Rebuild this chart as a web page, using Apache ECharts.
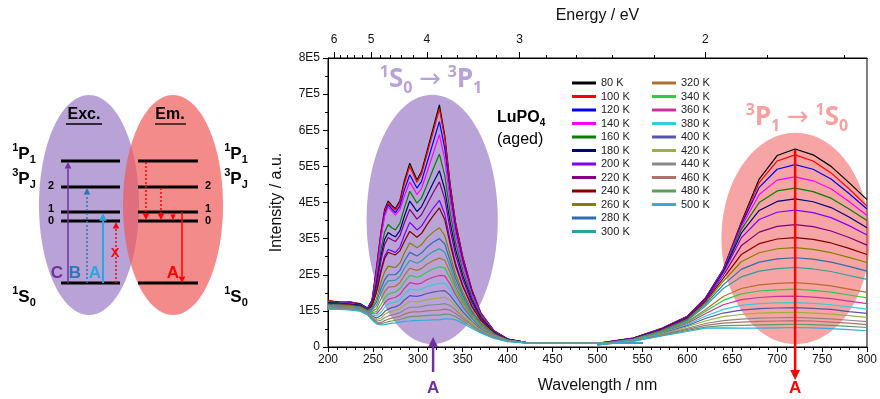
<!DOCTYPE html>
<html><head><meta charset="utf-8">
<script src="https://cdn.jsdelivr.net/npm/echarts@6/dist/echarts.min.js"></script>
<style>html,body{margin:0;padding:0;background:#fff}#c{width:880px;height:399px}</style>
</head><body><div id="c"></div>
<script>
// ---------- data (intensities in units of 1E5) ----------
const temps = ['80 K','100 K','120 K','140 K','160 K','180 K','200 K','220 K','240 K','260 K','280 K','300 K',
               '320 K','340 K','360 K','380 K','400 K','420 K','440 K','460 K','480 K','500 K'];
const colors = ['#000000','#FF0000','#0000FF','#FF00FF','#008000','#000080','#8000FF','#800080','#800000','#808000','#2E6DB4','#2AA0A0',
                '#B0702A','#2ECC44','#CC3399','#33CCDD','#5555AA','#9EB23A','#888888','#B07070','#5E9E5E','#33AADD'];
const exWl = [200,212,224,236,244,249,254,259,263,267,271,275,280,285,291,295,299,304,310,317,324,330,336,342,350,360,370,385,400,420,450,500,550];
const emWl = [500,540,570,600,620,640,660,680,700,720,740,760,780,800];

const ex80  = [1.28,1.25,1.24,1.20,1.08,1.30,2.20,3.20,3.80,4.04,3.92,3.83,4.05,4.60,5.09,4.85,4.63,4.85,5.40,6.05,6.70,5.85,4.50,3.45,2.50,1.60,0.95,0.45,0.22,0.13,0.10,0.10,0.12];
const ex100 = [1.30,1.22,1.26,1.18,1.06,1.28,2.15,3.15,3.75,4.00,3.88,3.79,4.00,4.52,5.00,4.78,4.56,4.78,5.32,5.95,6.59,5.78,4.45,3.42,2.48,1.58,0.94,0.44,0.22,0.13,0.10,0.10,0.12];
const ex120 = [1.26,1.24,1.22,1.19,1.07,1.27,2.10,3.08,3.68,3.94,3.82,3.72,3.90,4.35,4.77,4.58,4.40,4.58,5.08,5.66,6.24,5.50,4.25,3.28,2.38,1.53,0.92,0.44,0.22,0.13,0.10,0.10,0.12];
const ex140 = [1.25,1.23,1.21,1.17,1.06,1.25,2.05,3.02,3.62,3.88,3.76,3.65,3.80,4.18,4.57,4.40,4.22,4.38,4.82,5.35,5.88,5.20,4.05,3.12,2.28,1.47,0.90,0.43,0.21,0.13,0.10,0.10,0.12];
const ex160 = [1.24,1.22,1.20,1.16,1.05,1.22,1.85,2.70,3.18,3.39,3.30,3.24,3.42,3.85,4.31,4.15,3.98,4.12,4.48,4.92,5.34,4.75,3.72,2.90,2.12,1.38,0.86,0.42,0.21,0.13,0.10,0.10,0.12];
const ex180 = [1.22,1.21,1.18,1.15,1.04,1.20,1.75,2.52,2.98,3.17,3.10,3.05,3.22,3.62,4.04,3.90,3.75,3.88,4.18,4.54,4.88,4.36,3.45,2.70,1.98,1.30,0.82,0.41,0.21,0.13,0.10,0.10,0.12];
const ex200 = [1.20,1.19,1.17,1.13,1.03,1.15,1.55,2.15,2.52,2.70,2.66,2.62,2.76,3.10,3.45,3.35,3.24,3.34,3.58,3.84,4.06,3.68,2.95,2.32,1.72,1.15,0.75,0.39,0.20,0.12,0.10,0.10,0.12];
const ex220 = [1.21,1.20,1.17,1.14,1.03,1.17,1.68,2.40,2.84,3.03,2.97,2.92,3.08,3.44,3.81,3.68,3.54,3.66,3.94,4.27,4.57,4.10,3.25,2.55,1.88,1.24,0.79,0.40,0.20,0.12,0.10,0.10,0.12];
const ex240 = [1.19,1.18,1.16,1.12,1.02,1.13,1.50,2.08,2.45,2.62,2.58,2.55,2.66,2.92,3.20,3.12,3.04,3.14,3.38,3.63,3.85,3.52,2.85,2.25,1.68,1.12,0.73,0.38,0.20,0.12,0.10,0.10,0.12];
const ex260 = [1.18,1.17,1.15,1.11,1.01,1.08,1.35,1.80,2.08,2.24,2.22,2.20,2.32,2.60,2.88,2.82,2.75,2.83,3.02,3.18,3.30,3.08,2.55,2.02,1.52,1.02,0.68,0.36,0.19,0.12,0.10,0.10,0.12];
const ex280 = [1.16,1.16,1.14,1.10,1.00,1.05,1.25,1.62,1.86,2.00,2.00,2.00,2.12,2.38,2.62,2.57,2.52,2.60,2.76,2.90,3.00,2.85,2.38,1.90,1.43,0.97,0.64,0.35,0.19,0.12,0.10,0.10,0.12];
const ex300 = [1.15,1.14,1.13,1.09,0.99,1.02,1.15,1.48,1.70,1.83,1.84,1.85,1.95,2.18,2.40,2.36,2.32,2.38,2.52,2.64,2.72,2.62,2.22,1.78,1.35,0.92,0.61,0.34,0.19,0.12,0.10,0.10,0.12];
const ex320 = [1.14,1.13,1.12,1.08,0.98,0.98,1.06,1.33,1.53,1.65,1.67,1.68,1.78,1.98,2.18,2.15,2.12,2.17,2.29,2.39,2.46,2.40,2.06,1.67,1.27,0.87,0.58,0.33,0.18,0.12,0.10,0.10,0.12];
const ex340 = [1.13,1.12,1.11,1.07,0.97,0.95,0.98,1.18,1.36,1.46,1.50,1.52,1.61,1.80,1.98,1.96,1.93,1.97,2.07,2.16,2.22,2.19,1.90,1.56,1.20,0.83,0.56,0.32,0.18,0.12,0.10,0.10,0.12];
const ex360 = [1.12,1.11,1.10,1.06,0.96,0.92,0.92,1.06,1.22,1.32,1.35,1.37,1.45,1.62,1.78,1.76,1.74,1.77,1.86,1.93,1.98,1.97,1.74,1.45,1.12,0.79,0.53,0.31,0.18,0.12,0.10,0.10,0.12];
const ex380 = [1.11,1.10,1.09,1.05,0.95,0.89,0.86,0.96,1.10,1.19,1.22,1.24,1.31,1.46,1.60,1.59,1.57,1.60,1.67,1.72,1.76,1.76,1.58,1.34,1.05,0.75,0.51,0.30,0.18,0.12,0.10,0.10,0.12];
const ex400 = [1.10,1.09,1.08,1.04,0.94,0.86,0.80,0.87,0.98,1.05,1.09,1.11,1.17,1.30,1.42,1.41,1.40,1.43,1.48,1.52,1.55,1.56,1.43,1.23,0.98,0.71,0.49,0.29,0.17,0.11,0.10,0.10,0.12];
const ex420 = [1.09,1.08,1.07,1.03,0.93,0.83,0.76,0.80,0.90,0.96,0.99,1.01,1.06,1.16,1.26,1.26,1.25,1.27,1.31,1.34,1.36,1.38,1.29,1.13,0.91,0.67,0.47,0.28,0.17,0.11,0.10,0.10,0.12];
const ex440 = [1.08,1.07,1.06,1.02,0.92,0.81,0.72,0.74,0.81,0.86,0.89,0.91,0.95,1.03,1.10,1.10,1.10,1.12,1.15,1.17,1.18,1.20,1.15,1.03,0.84,0.63,0.45,0.27,0.17,0.11,0.10,0.10,0.12];
const ex460 = [1.07,1.06,1.05,1.01,0.91,0.79,0.69,0.68,0.73,0.77,0.80,0.82,0.85,0.91,0.96,0.97,0.97,0.98,1.00,1.01,1.02,1.05,1.02,0.93,0.78,0.60,0.43,0.26,0.16,0.11,0.10,0.10,0.12];
const ex480 = [1.06,1.05,1.04,1.00,0.90,0.77,0.66,0.64,0.67,0.70,0.72,0.74,0.76,0.80,0.84,0.85,0.85,0.86,0.87,0.88,0.88,0.91,0.90,0.84,0.72,0.56,0.41,0.25,0.16,0.11,0.10,0.10,0.12];
const ex500 = [1.05,1.04,1.03,0.99,0.89,0.75,0.64,0.61,0.62,0.64,0.66,0.67,0.69,0.71,0.72,0.73,0.73,0.74,0.74,0.75,0.75,0.78,0.78,0.75,0.66,0.52,0.39,0.24,0.15,0.11,0.10,0.10,0.12];

const em80  = [0.10,0.25,0.50,0.85,1.35,2.15,3.45,4.65,5.30,5.48,5.32,5.00,4.55,4.08];
const em100 = [0.10,0.25,0.50,0.85,1.35,2.15,3.42,4.55,5.15,5.32,5.15,4.82,4.38,3.90];
const em120 = [0.10,0.25,0.49,0.84,1.34,2.13,3.38,4.42,4.92,5.05,4.92,4.65,4.25,3.82];
const em140 = [0.10,0.24,0.49,0.84,1.33,2.12,3.32,4.22,4.62,4.71,4.60,4.38,4.03,3.64];
const em160 = [0.09,0.24,0.48,0.83,1.32,2.10,3.25,4.00,4.32,4.40,4.30,4.12,3.82,3.50];
const em180 = [0.09,0.24,0.48,0.82,1.31,2.08,3.15,3.78,4.03,4.10,4.02,3.86,3.60,3.30];
const em200 = [0.09,0.23,0.47,0.81,1.30,2.05,3.02,3.53,3.73,3.79,3.72,3.58,3.36,3.10];
const em220 = [0.09,0.23,0.46,0.80,1.28,1.98,2.80,3.18,3.34,3.39,3.33,3.21,3.03,2.82];
const em240 = [0.09,0.22,0.45,0.79,1.25,1.90,2.56,2.86,2.99,3.03,2.98,2.88,2.73,2.56];
const em260 = [0.08,0.22,0.44,0.77,1.22,1.82,2.36,2.61,2.72,2.75,2.70,2.61,2.48,2.34];
const em280 = [0.08,0.21,0.43,0.75,1.18,1.72,2.15,2.35,2.44,2.47,2.43,2.35,2.23,2.10];
const em300 = [0.08,0.21,0.42,0.73,1.13,1.62,1.94,2.10,2.17,2.20,2.16,2.09,1.98,1.87];
const em320 = [0.08,0.20,0.40,0.70,1.03,1.40,1.62,1.72,1.76,1.78,1.75,1.69,1.60,1.51];
const em340 = [0.07,0.20,0.39,0.68,0.98,1.29,1.47,1.55,1.58,1.60,1.57,1.52,1.44,1.36];
const em360 = [0.07,0.19,0.38,0.65,0.92,1.17,1.31,1.37,1.40,1.41,1.38,1.34,1.27,1.20];
const em380 = [0.07,0.19,0.37,0.62,0.85,1.04,1.15,1.20,1.22,1.23,1.21,1.17,1.11,1.05];
const em400 = [0.07,0.18,0.36,0.59,0.79,0.94,1.02,1.06,1.08,1.09,1.07,1.04,0.98,0.93];
const em420 = [0.07,0.18,0.35,0.56,0.72,0.84,0.90,0.94,0.95,0.96,0.94,0.91,0.87,0.82];
const em440 = [0.06,0.17,0.33,0.52,0.65,0.73,0.77,0.80,0.81,0.82,0.80,0.78,0.74,0.70];
const em460 = [0.06,0.17,0.32,0.49,0.60,0.66,0.69,0.71,0.72,0.73,0.72,0.69,0.66,0.62];
const em480 = [0.06,0.16,0.31,0.46,0.55,0.59,0.60,0.61,0.62,0.63,0.62,0.60,0.57,0.54];
const em500 = [0.06,0.16,0.30,0.43,0.52,0.53,0.52,0.52,0.53,0.54,0.53,0.51,0.48,0.45];

const excitation = [ex80,ex100,ex120,ex140,ex160,ex180,ex200,ex220,ex240,ex260,ex280,ex300,ex320,ex340,ex360,ex380,ex400,ex420,ex440,ex460,ex480,ex500];
const emission   = [em80,em100,em120,em140,em160,em180,em200,em220,em240,em260,em280,em300,em320,em340,em360,em380,em400,em420,em440,em460,em480,em500];

const energyMajor = [6,5,4,3,2];
const energyMinor = [5.8,5.6,5.4,5.2,4.8,4.6,4.4,4.2,3.8,3.6,3.4,3.2,2.8,2.6,2.4,2.2,1.8,1.6];
const yTickLabels = ['0','1E5','2E5','3E5','4E5','5E5','6E5','7E5','8E5'];
const HC = 1239.84;   // eV*nm
const UNIT = 1e5;

// ---------- chart ----------
const FONT = "'Liberation Sans', Arial, sans-serif";
const chart = echarts.init(document.getElementById('c'));

const series = [];
temps.forEach((t, i) => {
  const common = {name: t, type: 'line', showSymbol: false, smooth: false,
    lineStyle: {width: 1.2, color: colors[i]}, itemStyle: {color: colors[i]}, z: 3, silent: true};
  series.push(Object.assign({}, common, {data: exWl.map((w, j) => [w, excitation[i][j] * UNIT])}));
  series.push(Object.assign({}, common, {data: emWl.map((w, j) => [w, emission[i][j] * UNIT])}));
});

const legendBase = {orient: 'vertical', top: 77, padding: 0, itemWidth: 24, itemHeight: 3, itemGap: 1.5,
  icon: 'rect', selectedMode: false, textStyle: {fontSize: 11, lineHeight: 12, color: '#222', fontFamily: FONT}};

chart.setOption({
  animation: false,
  backgroundColor: '#fff',
  textStyle: {fontFamily: FONT},
  grid: {left: 328, right: 12, top: 58, bottom: 51, show: true, borderColor: '#000', borderWidth: 1, backgroundColor: 'transparent'},
  legend: [
    Object.assign({}, legendBase, {left: 572, data: temps.slice(0, 12)}),
    Object.assign({}, legendBase, {left: 652, data: temps.slice(12)})
  ],
  xAxis: [
    {type: 'value', min: 200, max: 800, interval: 50, position: 'bottom',
     axisLine: {lineStyle: {color: '#000', width: 1}}, axisTick: {length: 5, lineStyle: {color: '#000'}},
     minorTick: {show: true, splitNumber: 5, length: 3, lineStyle: {color: '#000'}},
     axisLabel: {fontSize: 12, color: '#111', margin: 7}, splitLine: {show: false},
     name: 'Wavelength / nm', nameLocation: 'middle', nameGap: 31, nameTextStyle: {fontSize: 16, color: '#111'}},
    {type: 'value', min: 200, max: 800, position: 'top',
     axisLine: {show: true, lineStyle: {color: '#000'}},
     axisTick: {show: true, length: 6, customValues: energyMajor.map(e => HC / e), lineStyle: {color: '#000'}},
     axisLabel: {show: true, customValues: energyMajor.map(e => HC / e), formatter: v => String(Math.round(HC / v)), fontSize: 12, color: '#111', margin: 12},
     splitLine: {show: false},
     name: 'Energy / eV', nameLocation: 'middle', nameGap: 34, nameTextStyle: {fontSize: 16, color: '#111'}},
    {type: 'value', min: 200, max: 800, position: 'top',
     axisLine: {show: true, lineStyle: {color: '#000'}},
     axisTick: {show: true, length: 3, customValues: energyMinor.map(e => HC / e), lineStyle: {color: '#000'}},
     axisLabel: {show: true, customValues: energyMinor.map(e => HC / e), formatter: () => ''}, splitLine: {show: false}}
  ],
  yAxis: [
    {type: 'value', min: 0, max: 8 * UNIT, interval: UNIT,
     axisLine: {show: true, lineStyle: {color: '#000'}}, axisTick: {show: true, length: 5, lineStyle: {color: '#000'}},
     minorTick: {show: true, splitNumber: 2, length: 3, lineStyle: {color: '#000'}},
     axisLabel: {fontSize: 12, color: '#111', margin: 8, formatter: v => yTickLabels[Math.round(v / UNIT)]},
     splitLine: {show: false},
     name: 'Intensity / a.u.', nameLocation: 'middle', nameGap: 43, nameTextStyle: {fontSize: 16, color: '#111'}}
  ],
  series: series
});

// ---------- annotations ----------
const P = (x, y) => chart.convertToPixel({xAxisIndex: 0, yAxisIndex: 0}, [x, y]);

function arrow(x1, y1, x2, y2, color, width, head, dash) {
  const dx = x2 - x1, dy = y2 - y1, L = Math.hypot(dx, dy), ux = dx / L, uy = dy / L;
  const bx = x2 - ux * head * 1.1, by = y2 - uy * head * 1.1;
  const nx = -uy * head * 0.55, ny = ux * head * 0.55;
  return [
    {type: 'line', z: 20, shape: {x1: x1, y1: y1, x2: bx, y2: by}, style: {stroke: color, lineWidth: width, lineDash: dash || null}},
    {type: 'polygon', z: 20, shape: {points: [[x2, y2], [bx + nx, by + ny], [bx - nx, by - ny]]}, style: {fill: color}}
  ];
}
function txt(x, y, text, style) {
  return {type: 'text', z: 20, x: x, y: y, style: Object.assign({text: text, align: 'center', verticalAlign: 'middle', fontFamily: FONT, fill: '#000'}, style)};
}
function stateRich(size, supSize, color, weight, family) {
  return {
    big: {fontSize: size, fontWeight: weight, lineHeight: size + 6, fill: color, fontFamily: family, verticalAlign: 'middle'},
    sup: {fontSize: supSize, fontWeight: weight, lineHeight: supSize + 1, fill: color, fontFamily: family, verticalAlign: 'top'},
    sub: {fontSize: supSize, fontWeight: weight, lineHeight: supSize + 1, fill: color, fontFamily: family, verticalAlign: 'bottom'},
    arr: {fontSize: size, fontWeight: 'normal', lineHeight: size + 6, fill: color, fontFamily: family, verticalAlign: 'middle'}
  };
}
function stateText(x, y, str, rich) {
  return {type: 'text', z: 20, x: x, y: y, style: {text: str, rich: rich, align: 'center', verticalAlign: 'middle'}};
}

const g = [];
// spectrum ellipses (behind curves)
const pe1 = P(243, 6.98 * UNIT), pe2 = P(389, 0.08 * UNIT);
g.push({type: 'ellipse', z: 1, shape: {cx: (pe1[0] + pe2[0]) / 2, cy: (pe1[1] + pe2[1]) / 2, rx: (pe2[0] - pe1[0]) / 2, ry: (pe2[1] - pe1[1]) / 2}, style: {fill: '#BAA4D7'}});
const re1 = P(638, 5.93 * UNIT), re2 = P(803, 0.08 * UNIT);
g.push({type: 'ellipse', z: 1, shape: {cx: (re1[0] + re2[0]) / 2, cy: (re1[1] + re2[1]) / 2, rx: (re2[0] - re1[0]) / 2, ry: (re2[1] - re1[1]) / 2}, style: {fill: 'rgba(240,90,90,0.55)'}});

// transition labels
const NS = "'Noto Sans', 'DejaVu Sans', sans-serif";
g.push(stateText(431, 80, '{sup|1}{big|S}{sub|0}{arr| → }{sup|3}{big|P}{sub|1}', stateRich(26, 16, '#B9A2D9', 'bold', NS)));
g.push(stateText(797, 118, '{sup|3}{big|P}{sub|1}{arr| → }{sup|1}{big|S}{sub|0}', stateRich(26, 16, '#F6A0A0', 'bold', NS)));
g.push({type: 'text', z: 20, x: 497, y: 118, style: {text: '{a|LuPO}{b|4}', rich: {a: {fontSize: 16, fontWeight: 'bold', lineHeight: 20, fontFamily: FONT, verticalAlign: 'middle'}, b: {fontSize: 10, fontWeight: 'bold', lineHeight: 12, fontFamily: FONT, verticalAlign: 'bottom'}}, align: 'left', verticalAlign: 'middle'}});
g.push(txt(497, 140, '(aged)', {fontSize: 16, align: 'left'}));

// arrows on spectrum
const pa = P(317, 0);
g.push(...arrow(pa[0], 372, pa[0], 337, '#7030A0', 2.5, 9));
g.push(txt(pa[0], 388, 'A', {fontSize: 17, fontWeight: 'bold', fill: '#7030A0'}));
const ra = P(720, 5.45 * UNIT);
g.push(...arrow(ra[0], ra[1], ra[0], 380, '#FF0000', 2.5, 9));
g.push(txt(ra[0], 388, 'A', {fontSize: 17, fontWeight: 'bold', fill: '#FF0000'}));

// ---------- left energy-level diagram ----------
g.push({type: 'ellipse', z: 1, shape: {cx: 89, cy: 205, rx: 50, ry: 110}, style: {fill: '#B9A2D6'}});
g.push({type: 'ellipse', z: 2, shape: {cx: 173, cy: 205, rx: 50, ry: 110}, style: {fill: 'rgba(240,90,90,0.7)'}});
g.push(txt(84, 115, 'Exc.', {fontSize: 16, fontWeight: 'bold'}));
g.push({type: 'line', z: 20, shape: {x1: 66, y1: 124, x2: 102, y2: 124}, style: {stroke: '#000', lineWidth: 1.3}});
g.push(txt(170, 115, 'Em.', {fontSize: 16, fontWeight: 'bold'}));
g.push({type: 'line', z: 20, shape: {x1: 155, y1: 124, x2: 186, y2: 124}, style: {stroke: '#000', lineWidth: 1.3}});
const levelsY = [161, 187, 212, 221, 283];
levelsY.forEach(y => {
  g.push({type: 'line', z: 20, shape: {x1: 61, y1: y, x2: 120, y2: y}, style: {stroke: '#000', lineWidth: 3}});
  g.push({type: 'line', z: 20, shape: {x1: 138, y1: y, x2: 198, y2: y}, style: {stroke: '#000', lineWidth: 3}});
});
const lr = stateRich(17, 11, '#000', 'bold', FONT);
[24, 236].forEach(x => {
  g.push(stateText(x, 154, '{sup|1}{big|P}{sub|1}', lr));
  g.push(stateText(x, 179, '{sup|3}{big|P}{sub|J}', lr));
  g.push(stateText(x, 297, '{sup|1}{big|S}{sub|0}', lr));
});
[51, 208].forEach(x => {
  g.push(txt(x, 186, '2', {fontSize: 11, fontWeight: 'bold'}));
  g.push(txt(x, 209, '1', {fontSize: 11, fontWeight: 'bold'}));
  g.push(txt(x, 221, '0', {fontSize: 11, fontWeight: 'bold'}));
});
g.push(...arrow(68, 283, 68, 162, '#7030A0', 1.5, 6));
g.push(...arrow(87, 283, 87, 188, '#2E75B6', 1.5, 6, [2, 2]));
g.push(...arrow(103, 283, 103, 213, '#29A8E0', 2, 7));
g.push(...arrow(116, 283, 116, 222, '#FF0000', 1.5, 6, [2, 2]));
g.push(txt(57, 273, 'C', {fontSize: 17, fontWeight: 'bold', fill: '#7030A0'}));
g.push(txt(75, 273, 'B', {fontSize: 17, fontWeight: 'bold', fill: '#2E75B6'}));
g.push(txt(95, 273, 'A', {fontSize: 17, fontWeight: 'bold', fill: '#29A8E0'}));
g.push(txt(115, 253, 'X', {fontSize: 13, fontWeight: 'bold', fill: '#FF0000'}));
g.push(...arrow(146, 162, 146, 220, '#FF0000', 1.5, 6, [2, 2]));
g.push(...arrow(161, 188, 161, 220, '#FF0000', 1.5, 6, [2, 2]));
g.push(...arrow(173, 213, 173, 220, '#FF0000', 1.5, 5));
g.push(...arrow(182, 212, 182, 283, '#FF0000', 1.5, 6));
g.push(txt(173, 273, 'A', {fontSize: 17, fontWeight: 'bold', fill: '#FF0000'}));

chart.setOption({graphic: {elements: g}});
</script></body></html>
